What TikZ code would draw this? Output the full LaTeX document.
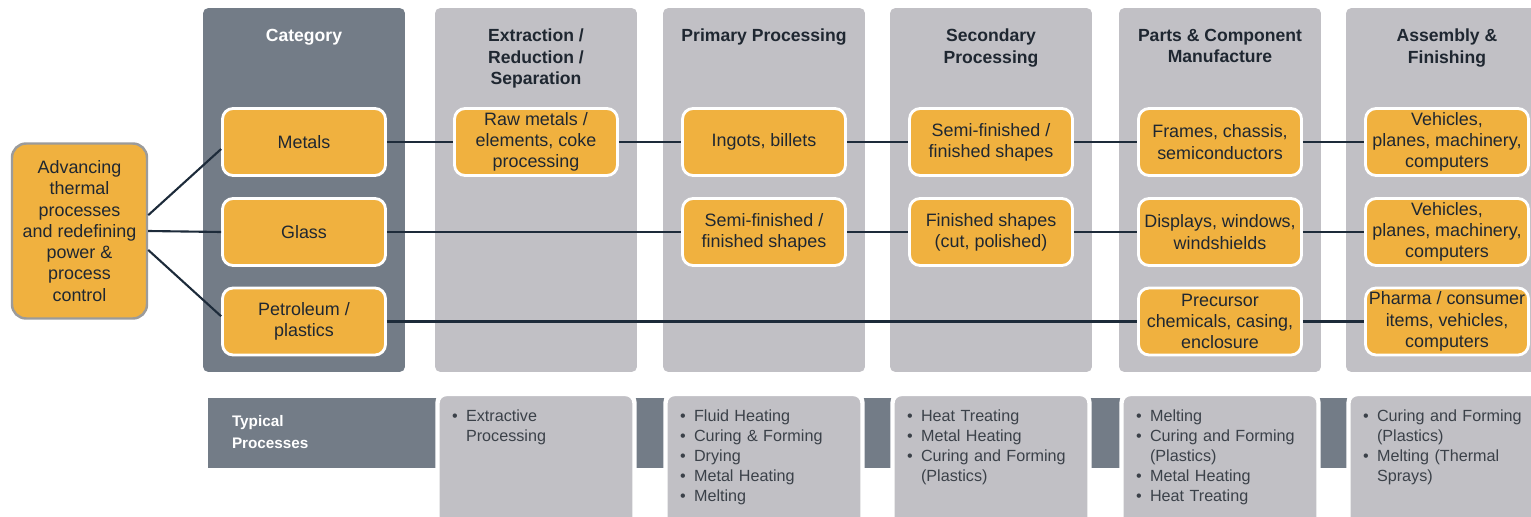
\documentclass[tikz,border=0pt]{standalone}
\usepackage{fontspec}
\setmainfont{Liberation Sans}
\usetikzlibrary{positioning}

\definecolor{barorange}{HTML}{F0B13F}
\definecolor{catgray}{HTML}{737C87}
\definecolor{stagegray}{HTML}{C1C0C5}
\definecolor{linknavy}{HTML}{1D2B3A}
\definecolor{inktext}{HTML}{1F2731}
\definecolor{bullettext}{HTML}{3B4149}
\definecolor{edgegray}{HTML}{9B9B9B}

\newcommand{\pitem}[1]{\hangindent=8pt\hangafter=1\noindent\makebox[8pt][l]{\textbullet}#1\par}

\begin{document}
\begin{tikzpicture}[
    x=0.02cm, y=-0.02cm,
    every node/.style={
        inner sep=0pt,
        outer sep=0pt,
    },
    stage/.style={
        fill=#1,
        rectangle,
        rounded corners=3pt,
        minimum width=4.04cm,
        minimum height=7.28cm,
    },
    heading/.style={
        anchor=north,
        align=center,
        text=#1,
        font=\fontsize{10}{12.2}\selectfont\bfseries,
    },
    item/.style={
        fill=barorange,
        draw=white,
        line width=1.6pt,
        outer sep=0.8pt,
        rounded corners=6pt,
        minimum width=3.26cm,
        minimum height=1.34cm,
        align=center,
        text=inktext,
        font=\fontsize{10.2}{12.1}\selectfont,
    },
    source/.style={
        fill=barorange,
        draw=edgegray,
        line width=1.4pt,
        outer sep=0.7pt,
        rounded corners=8pt,
        minimum width=2.7cm,
        minimum height=3.5cm,
        align=center,
        text=inktext,
        font=\fontsize{10.2}{12.1}\selectfont,
    },
    link/.style={
        draw=linknavy,
        line width=1.2pt,
    },
    procbox/.style={
        fill=stagegray,
        draw=white,
        line width=2.5pt,
        rounded corners=5pt,
        minimum width=3.94cm,
        minimum height=2.9cm,
        anchor=north,
    },
    proctext/.style={
        anchor=north west,
        text width=3.5cm,
        align=left,
        text=bullettext,
        font=\fontsize{9.2}{11.3}\selectfont,
    }
]
    \useasboundingbox (0,0) rectangle (1531,517);
    \clip (0,0) rectangle (1531,517);

    % stage columns
    \node[stage=catgray] (cat) at (304,190) {};
    \foreach \name/\x in {extr/536,prim/764,sec/991,part/1220,asm/1447}{
        \node[stage=stagegray] (\name) at (\x,190) {};
    }
    \node[heading=white] (cathead) at (304,29) {Category};
    \node[heading=inktext] (extrhead) at (536,29) {Extraction /\\Reduction /\\Separation};
    \node[heading=inktext] (primhead) at (764,29) {Primary Processing};
    \node[heading=inktext] (sechead) at (991,29) {Secondary\\Processing};
    \node[heading=inktext] (parthead) at (1220,29) {Parts \& Component\\Manufacture};
    \node[heading=inktext] (asmhead) at (1447,29) {Assembly \&\\Finishing};

    \node[source] (adv) at (79.5,231) {Advancing\\thermal\\processes\\and redefining\\power \&\\process\\control};

    \node[item] (metals) at (304,142) {Metals};
    \node[item] (raw) at (536,142) {Raw metals /\\elements, coke\\processing};
    \node[item] (ingots) at (764,142) {Ingots, billets};
    \node[item] (semione) at (991,142) {Semi-finished /\\finished shapes};
    \node[item] (frames) at (1220,142) {Frames, chassis,\\semiconductors};
    \node[item] (vehone) at (1447,142) {Vehicles,\\planes, machinery,\\computers};

    \node[item] (glass) at (304,232) {Glass};
    \node[item] (semitwo) at (764,232) {Semi-finished /\\finished shapes};
    \node[item] (cutshapes) at (991,232) {Finished shapes\\(cut, polished)};
    \node[item] (displays) at (1220,232) {Displays, windows,\\windshields};
    \node[item] (vehtwo) at (1447,232) {Vehicles,\\planes, machinery,\\computers};

    \node[item] (petro) at (304,321.5) {Petroleum /\\plastics};
    \node[item] (precursor) at (1220,321.5) {Precursor\\chemicals, casing,\\enclosure};
    \node[item] (pharma) at (1447,321.5) {Pharma / consumer\\items, vehicles,\\computers};

    \draw[link] ([yshift=9pt]adv.east) -- ([yshift=-4pt]metals.west);
    \draw[link] (adv.east) -- (glass.west);
    \draw[link] ([yshift=-10.8pt]adv.east) -- ([yshift=3pt]petro.west);
    \foreach \a/\b in {metals/raw,raw/ingots,ingots/semione,semione/frames,frames/vehone,
        glass/semitwo,semitwo/cutshapes,cutshapes/displays,displays/vehtwo,
        petro/precursor,precursor/pharma}{
        \draw[link] (\a.east) -- (\b.west);
    }

    % typical processes
    \fill[catgray] (208,398) rectangle (1540,468);
    \node[anchor=west, align=left, text=white, font=\fontsize{8.7}{12}\selectfont\bfseries] (typical) at (232,432) {Typical\\Processes};
    \foreach \name/\x in {extrbox/536,primbox/764,secbox/991,partbox/1220,asmbox/1447}{
        \node[procbox] (\name) at (\x,394) {};
    }
    \node[proctext] (extrlist) at (452,410) {\pitem{Extractive\newline Processing}};
    \node[proctext] (primlist) at (680,410) {\pitem{Fluid Heating}\pitem{Curing \& Forming}\pitem{Drying}\pitem{Metal Heating}\pitem{Melting}};
    \node[proctext] (seclist) at (907,410) {\pitem{Heat Treating}\pitem{Metal Heating}\pitem{Curing and Forming\newline (Plastics)}};
    \node[proctext] (partlist) at (1136,410) {\pitem{Melting}\pitem{Curing and Forming\newline (Plastics)}\pitem{Metal Heating}\pitem{Heat Treating}};
    \node[proctext] (asmlist) at (1363,410) {\pitem{Curing and Forming\newline (Plastics)}\pitem{Melting (Thermal\newline Sprays)}};
\end{tikzpicture}
\end{document}
